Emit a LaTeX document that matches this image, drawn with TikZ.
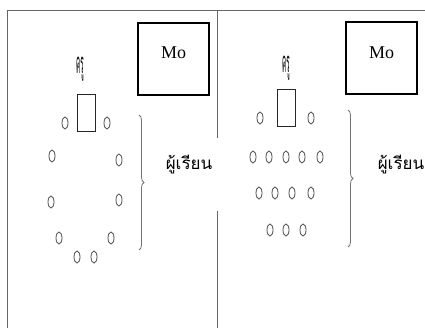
\documentclass[tikz,border=0pt]{standalone}
\usepackage{fontspec}
\setmainfont{Liberation Serif}
\newfontfamily\thaifont[Script=Thai]{Loma}
\usetikzlibrary{positioning,shapes.geometric,decorations.pathreplacing}

\begin{document}
\begin{tikzpicture}
		[x=1pt, y=-1pt,
		frame/.style={draw=black!60, line width=0.9pt},
		chair/.style={draw=black!70, ellipse, minimum width=6pt, minimum height=12pt, inner sep=0pt, line width=0.8pt},
		desk/.style={draw=black!85, minimum width=18pt, minimum height=37pt, inner sep=0pt, line width=0.8pt},
		mobox/.style={draw, line width=1.3pt, minimum width=71pt, minimum height=72pt, inner sep=0pt},
		motext/.style={font=\fontsize{18}{20}\selectfont},
		teacher/.style={font=\thaifont\fontsize{14}{16}\selectfont, inner sep=0pt},
		pupils/.style={font=\thaifont\fontsize{17}{19}\selectfont, inner sep=0pt},
		curly/.style={draw=black!55, line width=0.8pt, decorate, decoration={brace, amplitude=5pt}}]
		\useasboundingbox (0,0) rectangle (425,328);
		% frame
		\draw[frame] (7,328) -- (7,10) -- (425,10);
		\draw[frame] (217,10) -- (217,138);
		\draw[frame] (217,211) -- (217,328);
		% left room
		\node[mobox] (mol) at (173.5,59) {};
		\node[motext] (mtl) at (173.5,53) {Mo};
		\node[teacher] (tl) at (80,69) {\scalebox{0.45}[2.1]{ครู}};
		\node[desk] (dl) at (86,112.5) {};
		\node[chair] (l1) at (65,123) {};
		\node[chair] (l2) at (107,123) {};
		\node[chair] (l3) at (52,156) {};
		\node[chair] (l4) at (119,160) {};
		\node[chair] (l5) at (51,202) {};
		\node[chair] (l6) at (119,200) {};
		\node[chair] (l7) at (59,238) {};
		\node[chair] (l8) at (111,238) {};
		\node[chair] (l9) at (77,257) {};
		\node[chair] (l10) at (94,257) {};
		\coordinate (bl1) at (139,115);
		\coordinate (bl2) at (139,250);
		\draw[curly] (bl1) -- (bl2);
		\node[pupils] (pl) at (189,165) {ผู้เรียน};
		% right room
		\node[mobox] (mor) at (381.5,58) {};
		\node[motext] (mtr) at (381.5,53) {Mo};
		\node[teacher] (tr) at (286,68) {\scalebox{0.45}[2.1]{ครู}};
		\node[desk] (dr) at (286.5,108) {};
		\node[chair] (r1) at (260,118) {};
		\node[chair] (r2) at (311,118) {};
		\node[chair] (r3) at (253,157) {};
		\node[chair] (r4) at (269,157) {};
		\node[chair] (r5) at (286,157) {};
		\node[chair] (r6) at (302,157) {};
		\node[chair] (r7) at (320,157) {};
		\node[chair] (r8) at (259,193) {};
		\node[chair] (r9) at (275,193) {};
		\node[chair] (r10) at (292,193) {};
		\node[chair] (r11) at (311,193) {};
		\node[chair] (r12) at (270,230) {};
		\node[chair] (r13) at (286,230) {};
		\node[chair] (r14) at (303,230) {};
		\coordinate (br1) at (348,110);
		\coordinate (br2) at (348,247);
		\draw[curly] (br1) -- (br2);
		\node[pupils] (pr) at (401,165) {ผู้เรียน};
	\end{tikzpicture}
\end{document}
